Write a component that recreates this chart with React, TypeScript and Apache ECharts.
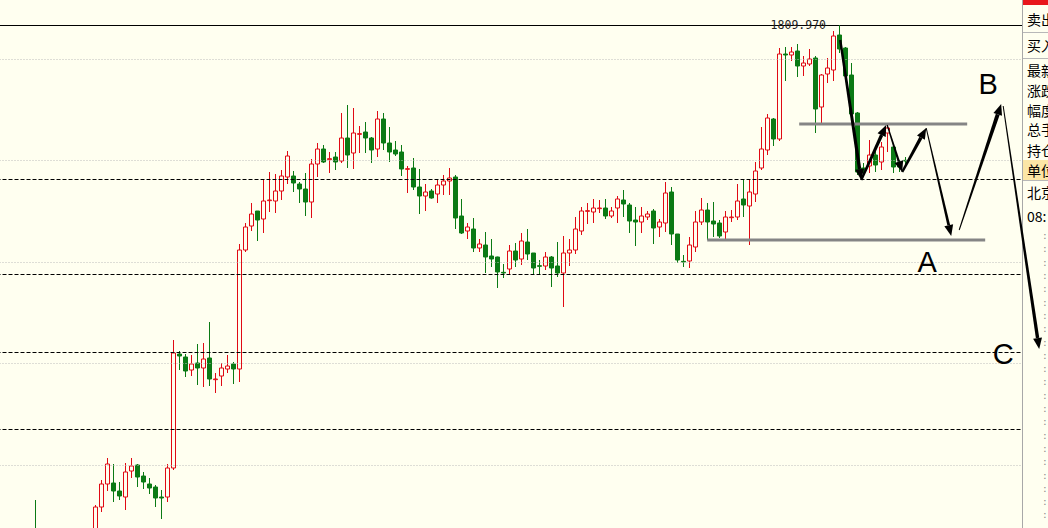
import React, { useEffect, useRef } from "react";
import * as echarts from "echarts";

// Candles: [open, close, low, high]
const ohlc: number[][] = [
  [1655.5, 1649.5, 1645.0, 1667.5],
  [1649.5, 1646.5, 1643.5, 1654.0],
  [1646.5, 1651.0, 1645.0, 1652.5],
  [1651.0, 1648.0, 1645.9, 1653.1],
  [1648.0, 1652.5, 1646.5, 1654.0],
  [1652.5, 1649.5, 1647.7, 1654.9],
  [1649.5, 1654.0, 1648.0, 1656.1],
  [1654.0, 1651.9, 1649.5, 1656.7],
  [1651.9, 1655.5, 1650.7, 1657.3],
  [1655.5, 1657.0, 1653.1, 1658.2],
  [1657.0, 1665.4, 1655.5, 1666.0],
  [1665.4, 1672.3, 1663.9, 1673.5],
  [1672.3, 1678.3, 1670.2, 1680.1],
  [1672.6, 1670.2, 1666.9, 1678.3],
  [1670.2, 1668.7, 1667.5, 1672.9],
  [1668.4, 1675.9, 1664.5, 1678.6],
  [1676.2, 1677.7, 1674.1, 1680.1],
  [1678.0, 1674.4, 1671.4, 1678.3],
  [1674.7, 1672.9, 1670.8, 1675.9],
  [1672.3, 1671.1, 1669.3, 1674.1],
  [1671.4, 1668.1, 1665.4, 1672.0],
  [1668.4, 1668.1, 1661.8, 1670.5],
  [1668.4, 1677.1, 1666.9, 1678.3],
  [1677.1, 1711.6, 1676.5, 1715.5],
  [1711.3, 1710.7, 1706.5, 1712.2],
  [1710.4, 1706.2, 1704.4, 1711.3],
  [1706.5, 1708.3, 1704.7, 1711.0],
  [1708.6, 1707.1, 1702.0, 1714.3],
  [1707.1, 1709.8, 1701.4, 1714.6],
  [1710.1, 1703.8, 1701.7, 1720.9],
  [1703.6, 1703.8, 1699.6, 1705.6],
  [1704.7, 1707.1, 1701.7, 1708.6],
  [1706.8, 1707.7, 1705.6, 1711.0],
  [1708.3, 1706.8, 1702.3, 1708.9],
  [1706.8, 1742.5, 1702.9, 1744.3],
  [1742.5, 1749.4, 1741.9, 1750.6],
  [1749.7, 1753.3, 1748.2, 1756.6],
  [1754.2, 1751.5, 1745.2, 1754.2],
  [1751.8, 1757.2, 1747.6, 1763.5],
  [1757.3, 1757.5, 1753.9, 1765.9],
  [1757.2, 1760.2, 1753.6, 1765.3],
  [1760.2, 1764.7, 1757.5, 1766.5],
  [1764.4, 1770.7, 1762.3, 1772.2],
  [1764.7, 1762.6, 1759.9, 1766.2],
  [1762.3, 1760.8, 1756.6, 1762.9],
  [1760.8, 1756.9, 1752.7, 1765.6],
  [1756.9, 1768.3, 1752.1, 1769.8],
  [1768.3, 1772.8, 1764.4, 1774.6],
  [1772.8, 1768.9, 1768.6, 1774.0],
  [1769.6, 1769.9, 1765.6, 1771.9],
  [1770.4, 1768.9, 1766.5, 1771.9],
  [1769.2, 1776.1, 1768.6, 1783.6],
  [1776.1, 1771.0, 1767.1, 1786.0],
  [1771.6, 1777.6, 1766.8, 1785.1],
  [1777.2, 1777.4, 1771.6, 1779.7],
  [1777.9, 1776.1, 1771.6, 1780.9],
  [1776.1, 1772.5, 1768.6, 1776.4],
  [1772.8, 1781.8, 1770.4, 1784.2],
  [1781.8, 1774.6, 1772.5, 1783.6],
  [1774.6, 1771.9, 1768.9, 1779.4],
  [1772.5, 1771.3, 1770.7, 1775.2],
  [1771.9, 1766.8, 1764.7, 1774.0],
  [1766.7, 1766.9, 1759.6, 1767.7],
  [1767.1, 1761.4, 1760.5, 1770.1],
  [1761.4, 1758.7, 1753.3, 1766.8],
  [1758.7, 1759.9, 1754.2, 1762.3],
  [1760.2, 1758.1, 1757.9, 1760.8],
  [1759.3, 1762.0, 1756.6, 1763.5],
  [1762.0, 1763.2, 1759.0, 1765.0],
  [1763.2, 1764.1, 1759.0, 1767.1],
  [1764.4, 1752.1, 1748.8, 1765.0],
  [1752.7, 1747.6, 1747.3, 1757.8],
  [1748.2, 1749.4, 1745.8, 1750.6],
  [1748.8, 1743.1, 1741.9, 1752.1],
  [1743.1, 1744.3, 1741.9, 1745.8],
  [1744.0, 1740.4, 1735.6, 1747.9],
  [1740.7, 1739.8, 1737.4, 1745.8],
  [1740.4, 1735.9, 1731.1, 1740.5],
  [1735.8, 1735.6, 1734.1, 1738.3],
  [1736.8, 1742.2, 1735.0, 1744.0],
  [1742.2, 1739.5, 1737.4, 1744.6],
  [1739.8, 1745.2, 1738.0, 1747.6],
  [1744.9, 1741.3, 1739.5, 1748.8],
  [1741.6, 1737.1, 1735.3, 1741.6],
  [1737.8, 1737.6, 1735.0, 1739.5],
  [1737.7, 1740.4, 1736.5, 1741.9],
  [1740.4, 1737.1, 1731.4, 1740.7],
  [1737.7, 1735.6, 1734.4, 1744.9],
  [1735.6, 1741.6, 1725.4, 1746.7],
  [1741.6, 1742.5, 1737.7, 1745.8],
  [1742.5, 1748.8, 1741.3, 1752.4],
  [1748.2, 1754.2, 1747.0, 1755.4],
  [1754.1, 1754.3, 1750.3, 1756.6],
  [1753.9, 1755.1, 1750.6, 1757.8],
  [1754.9, 1755.1, 1753.6, 1757.5],
  [1755.1, 1752.7, 1751.8, 1757.8],
  [1752.7, 1754.2, 1752.1, 1755.4],
  [1755.1, 1757.8, 1750.6, 1758.7],
  [1757.5, 1756.3, 1752.4, 1760.5],
  [1756.0, 1751.2, 1747.6, 1756.6],
  [1751.5, 1750.9, 1743.7, 1755.4],
  [1750.9, 1752.7, 1747.6, 1755.4],
  [1752.4, 1753.3, 1751.5, 1754.2],
  [1754.2, 1749.1, 1744.3, 1754.8],
  [1749.4, 1750.9, 1746.4, 1751.8],
  [1750.6, 1759.6, 1747.9, 1762.9],
  [1759.9, 1747.3, 1744.0, 1761.4],
  [1747.3, 1739.5, 1738.6, 1747.3],
  [1739.1, 1738.9, 1737.4, 1741.0],
  [1739.2, 1744.0, 1737.1, 1746.4],
  [1743.4, 1750.9, 1741.9, 1754.2],
  [1750.9, 1754.5, 1750.0, 1758.1],
  [1754.5, 1750.9, 1745.5, 1756.6],
  [1751.2, 1750.3, 1746.4, 1756.9],
  [1750.6, 1746.7, 1746.1, 1751.5],
  [1747.9, 1752.4, 1745.8, 1754.2],
  [1752.2, 1752.4, 1750.9, 1754.5],
  [1752.4, 1757.2, 1751.5, 1762.3],
  [1757.8, 1756.0, 1752.4, 1763.8],
  [1755.7, 1759.9, 1744.0, 1763.8],
  [1759.3, 1766.2, 1756.9, 1768.9],
  [1767.1, 1772.8, 1766.5, 1779.4],
  [1772.5, 1782.1, 1771.0, 1783.3],
  [1781.8, 1775.8, 1773.7, 1782.1],
  [1775.8, 1801.3, 1775.2, 1803.1],
  [1801.3, 1801.0, 1793.2, 1803.4],
  [1801.0, 1801.9, 1799.2, 1803.4],
  [1802.2, 1797.7, 1794.4, 1804.3],
  [1797.7, 1798.6, 1794.7, 1800.7],
  [1798.3, 1799.8, 1797.7, 1802.8],
  [1800.1, 1784.8, 1777.6, 1800.7],
  [1785.4, 1795.0, 1780.0, 1795.3],
  [1795.3, 1797.1, 1792.6, 1800.1],
  [1796.5, 1806.7, 1793.2, 1808.2],
  [1807.0, 1802.8, 1801.6, 1809.97],
  [1803.1, 1794.7, 1794.4, 1803.4],
  [1795.0, 1783.3, 1783.0, 1798.6],
  [1783.6, 1765.9, 1765.0, 1783.9],
  [1767.1, 1766.5, 1765.0, 1768.6],
  [1767.7, 1771.0, 1765.6, 1775.5],
  [1771.0, 1768.0, 1765.9, 1773.4],
  [1768.9, 1773.4, 1766.5, 1774.9],
  [1777.6, 1779.1, 1771.9, 1780.0],
  [1773.4, 1767.4, 1765.6, 1773.4],
  [1768.6, 1767.4, 1765.9, 1769.5],
  [1769.4, 1769.2, 1768.0, 1770.4],
];

// Horizontal reference levels (price)
const gridLevels = [1799.8, 1769.5, 1738.9, 1708.6, 1678.0];
const dashedLevels = [1763.8, 1735.3, 1711.9, 1688.8];
// Gray support / resistance lines: [fromBar, toBar, price]
const grayLevels = [
  [127.28, 155.28, 1780.3],
  [111.95, 158.28, 1745.5],
];
// Drawn arrows: [fromBar, fromPrice, toBar, toPrice]
const arrows = [
  [134.12, 1805.5, 137.62, 1763.5],
  [137.62, 1763.5, 141.78, 1780.0],
  [141.95, 1780.0, 144.45, 1765.9],
  [144.45, 1765.9, 148.45, 1779.1],
  [148.45, 1779.1, 152.62, 1746.7],
  [153.95, 1748.5, 160.95, 1786.3],
  [161.28, 1785.7, 167.28, 1712.8],
];
// Wave labels: [text, bar, price]
const waveLabels: [string, number, number][] = [
  ["A", 148.62, 1738.9],
  ["B", 158.78, 1792.3],
  ["C", 161.28, 1711.3],
];
// Quote panel captions
const quoteLabels = ["卖出", "买入", "最新", "涨跌", "幅度", "总手", "持仓", "单位", "北京", "08:"];

const LEAD = 6;
const TOTAL = 176;
const categories = Array.from({ length: TOTAL }, (_, i) => String(i - LEAD + 1));

// styles / layout
const BG = "#FFFFF0";
const RED = "#E00A14";
const GREEN = "#0B7A14";
const arrowWidths = [
  [2.4, 3.4],
  [2.4, 3.4],
  [1.2, 2.4],
  [2.4, 3.4],
  [1, 2.8],
  [1, 4],
  [1, 3.4],
];
const quoteRowY = [19, 45, 70, 90, 110, 129, 150, 170, 192, 216];

export default function App() {
  const ref = useRef<HTMLDivElement>(null);

  useEffect(() => {
    if (!ref.current) return;
    const chart = echarts.init(ref.current, null, { renderer: "svg" });

    let maxIdx = 0;
    ohlc.forEach((d, i) => {
      if (d[3] > ohlc[maxIdx][3]) maxIdx = i;
    });
    const maxHigh = ohlc[maxIdx][3];

    const seriesData: any[] = [
      ...Array.from({ length: LEAD }, () => "-"),
      ...ohlc,
    ];

    const cjk = "'Noto Sans CJK SC', sans-serif";

    const panelGraphics: any[] = [
      { type: "rect", z: 50, silent: true, shape: { x: 1022, y: 0, width: 40, height: 528 }, style: { fill: BG } },
      { type: "rect", z: 51, silent: true, shape: { x: 1023, y: 160, width: 40, height: 20 }, style: { fill: "#FCE6A6" } },
      { type: "rect", z: 51, silent: true, shape: { x: 1023, y: 0, width: 40, height: 5 }, style: { fill: "#E8161C" } },
      { type: "line", z: 51, silent: true, shape: { x1: 1022.5, y1: 0, x2: 1022.5, y2: 528 }, style: { stroke: "#A8A8A8", lineWidth: 1 } },
      { type: "line", z: 51, silent: true, shape: { x1: 1023, y1: 32.5, x2: 1048, y2: 32.5 }, style: { stroke: "#B8B8B8", lineWidth: 1 } },
      { type: "line", z: 51, silent: true, shape: { x1: 1023, y1: 58.5, x2: 1048, y2: 58.5 }, style: { stroke: "#B8B8B8", lineWidth: 1 } },
      { type: "line", z: 51, silent: true, shape: { x1: 1023, y1: 180.5, x2: 1048, y2: 180.5 }, style: { stroke: "#B8B8B8", lineWidth: 1 } },
      ...quoteLabels.map((t, i) => ({
        type: "text",
        z: 52,
        silent: true,
        style: {
          text: t,
          x: 1027,
          y: quoteRowY[i],
          fill: "#000",
          font: `14px ${cjk}`,
          align: "left",
          verticalAlign: "middle",
          textAlign: "left",
          textVerticalAlign: "middle",
        },
      })),
      {
        type: "text",
        z: 52,
        silent: true,
        style: {
          text: Array.from({ length: 22 }, () => ":").join("\n"),
          x: 1043,
          y: 229,
          fill: "#8A8A8A",
          font: "11px 'DejaVu Sans', sans-serif",
          lineHeight: 13.3,
          align: "left",
          verticalAlign: "top",
          textAlign: "left",
          textVerticalAlign: "top",
        },
      },
    ];

    const option: any = {
      animation: false,
      backgroundColor: BG,
      grid: {
        left: -3.5,
        top: 25,
        width: 1056,
        height: 503,
        containLabel: false,
        outerBoundsMode: "none",
      },
      xAxis: [
        {
          type: "category",
          data: categories,
          boundaryGap: true,
          position: "top",
          axisLine: { show: true, onZero: false, lineStyle: { color: "#000", width: 1 } },
          axisTick: { show: false },
          axisLabel: { show: false },
          splitLine: { show: false },
        },
        {
          type: "value",
          min: -LEAD - 0.5,
          max: TOTAL - LEAD - 0.5,
          show: false,
          splitLine: { show: false },
        },
      ],
      yAxis: {
        type: "value",
        min: 1659.1,
        max: 1810.0,
        show: false,
        splitLine: { show: false },
      },
      series: [
        {
          type: "candlestick",
          xAxisIndex: 0,
          yAxisIndex: 0,
          data: seriesData,
          barWidth: 4,
          clip: true,
          itemStyle: {
            color: BG,
            color0: GREEN,
            borderColor: RED,
            borderColor0: GREEN,
            borderWidth: 1,
          },
          markLine: {
            silent: true,
            symbol: ["none", "none"],
            label: { show: false },
            data: [
              ...gridLevels.map((v) => ({
                yAxis: v,
                lineStyle: { type: [1, 2], color: "#BDBDBD", width: 1 },
              })),
              ...dashedLevels.map((v) => ({
                yAxis: v,
                lineStyle: { type: [4, 2], color: "#000", width: 1 },
              })),
            ],
          },
          markPoint: {
            silent: true,
            symbol: "circle",
            symbolSize: 1,
            itemStyle: { color: "rgba(0,0,0,0)" },
            label: {
              show: true,
              position: "left",
              distance: 13,
              formatter: (p: any) => Number(p.value).toFixed(3),
              color: "#222",
              fontSize: 11.5,
              fontFamily: "'DejaVu Sans Mono', monospace",
            },
            data: [{ coord: [maxIdx + LEAD, maxHigh], value: maxHigh }],
          },
        },
        {
          type: "custom",
          xAxisIndex: 1,
          yAxisIndex: 0,
          z: 5,
          silent: true,
          data: grayLevels,
          encode: { x: [0, 1], y: 2 },
          renderItem: (params: any, api: any) => {
            const a = api.coord([api.value(0), api.value(2)]);
            const b = api.coord([api.value(1), api.value(2)]);
            return {
              type: "line",
              shape: { x1: a[0], y1: a[1], x2: b[0], y2: b[1] },
              style: { stroke: "#858585", lineWidth: 3 },
            };
          },
        },
        {
          type: "custom",
          xAxisIndex: 1,
          yAxisIndex: 0,
          z: 60,
          silent: true,
          data: arrows,
          encode: { x: [0, 2], y: [1, 3] },
          renderItem: (params: any, api: any) => {
            const p1 = api.coord([api.value(0), api.value(1)]);
            const p2 = api.coord([api.value(2), api.value(3)]);
            const [w1, w2] = arrowWidths[params.dataIndex];
            const dx = p2[0] - p1[0];
            const dy = p2[1] - p1[1];
            const len = Math.hypot(dx, dy) || 1;
            const ux = dx / len;
            const uy = dy / len;
            const nx = -uy;
            const ny = ux;
            const head = 11;
            const hw = 4.5;
            const bx = p2[0] - ux * head;
            const by = p2[1] - uy * head;
            const body = [
              [p1[0] + (nx * w1) / 2, p1[1] + (ny * w1) / 2],
              [bx + (nx * w2) / 2, by + (ny * w2) / 2],
              [bx - (nx * w2) / 2, by - (ny * w2) / 2],
              [p1[0] - (nx * w1) / 2, p1[1] - (ny * w1) / 2],
            ];
            const tip = [
              [bx + nx * hw, by + ny * hw],
              [p2[0], p2[1]],
              [bx - nx * hw, by - ny * hw],
            ];
            return {
              type: "group",
              children: [
                { type: "polygon", shape: { points: body }, style: { fill: "#000" } },
                { type: "polygon", shape: { points: tip }, style: { fill: "#000" } },
              ],
            };
          },
        },
        {
          type: "custom",
          xAxisIndex: 1,
          yAxisIndex: 0,
          z: 60,
          silent: true,
          data: waveLabels.map((w) => [w[1], w[2]]),
          encode: { x: 0, y: 1 },
          renderItem: (params: any, api: any) => {
            const p = api.coord([api.value(0), api.value(1)]);
            return {
              type: "text",
              x: p[0],
              y: p[1],
              style: {
                text: waveLabels[params.dataIndex][0],
                fill: "#000",
                font: "29px 'Liberation Sans', Arial, sans-serif",
                align: "center",
                verticalAlign: "middle",
              },
            };
          },
        },
      ],
      graphic: panelGraphics,
    };

    chart.setOption(option);
    return () => chart.dispose();
  }, []);

  return (
    <div
      ref={ref}
      style={{
        position: "absolute",
        left: 0,
        top: 0,
        width: 1048,
        height: 528,
        background: BG,
        overflow: "hidden",
      }}
    />
  );
}
